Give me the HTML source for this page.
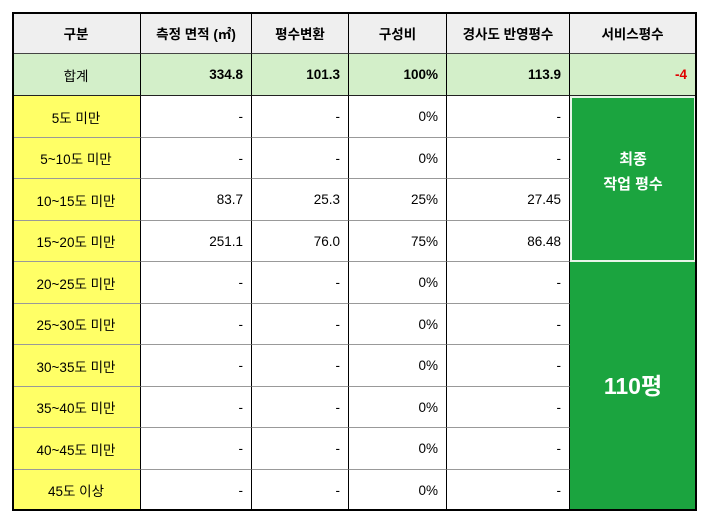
<!DOCTYPE html>
<html><head><meta charset="utf-8"><style>
html,body{margin:0;padding:0;background:#fff;width:720px;height:531px;overflow:hidden}
body{position:relative;font-family:"Liberation Sans","Noto Sans CJK KR",sans-serif;font-size:13.5px;color:#000}
.c{position:absolute;box-sizing:border-box;display:flex;align-items:center;border-right:1px solid #000;border-bottom:1px solid #999}
.ctr{justify-content:center}.r{justify-content:flex-end;padding-right:8px}
.h{background:#efefef;font-weight:bold;border-bottom:1px solid #444}
.t{background:#d3efc9;border-bottom:1px solid #222}
.t.b{font-weight:bold}
.y{background:#ffff66}
.g{position:absolute;box-sizing:border-box;background:#1ba43f;color:#fff;font-weight:bold;display:flex;align-items:center;justify-content:center;text-align:center}
</style></head><body>
<div style="position:absolute;left:12px;top:12px;width:685px;height:499px;border:2px solid #000;box-sizing:border-box;z-index:5;pointer-events:none"></div>
<div id="tbl"></div>
<div class="g" style="left:570px;top:96px;width:126px;height:166px;border:2px solid #e8f5e8;font-size:15px;line-height:25px;padding-bottom:14px">최종<br>작업 평수</div>
<div class="g" style="left:570px;top:262px;width:126px;height:249px;font-size:23px;padding-bottom:6px">110평</div>
<script>
const headers=["구분","측정 면적 (㎡)","평수변환","구성비","경사도 반영평수","서비스평수"];
const totals=["합계","334.8","101.3","100%","113.9","-4"];
const categories=["5도 미만","5~10도 미만","10~15도 미만","15~20도 미만","20~25도 미만","25~30도 미만","30~35도 미만","35~40도 미만","40~45도 미만","45도 이상"];
const areas=["-","-","83.7","251.1","-","-","-","-","-","-"];
const pyeong=["-","-","25.3","76.0","-","-","-","-","-","-"];
const ratios=["0%","0%","25%","75%","0%","0%","0%","0%","0%","0%"];
const adjusted=["-","-","27.45","86.48","-","-","-","-","-","-"];
const xs=[12,141,252,349,447,570,696];
const tbl=document.getElementById('tbl');
function cell(x0,x1,y0,y1,txt,cls,name){
 const d=document.createElement('div');
 d.className='c '+cls;
 d.style.left=x0+'px';d.style.top=y0+'px';d.style.width=(x1-x0)+'px';d.style.height=(y1-y0)+'px';
 d.textContent=txt;
 
 
 tbl.appendChild(d);return d;
}
headers.forEach((h,i)=>cell(xs[i],xs[i+1],12,54,h,'h ctr','header-'+i));
totals.forEach((t,i)=>{const d=cell(xs[i],xs[i+1],54,96,t,'t '+(i==0?'ctr':'r b'),'total-'+i);if(i==5)d.style.color='#e00000';});
categories.forEach((c,k)=>{
 const y0=Math.round(96+41.5*k),y1=Math.round(96+41.5*(k+1));
 cell(xs[0],xs[1],y0,y1,c,'y ctr','category-'+k);
 cell(xs[1],xs[2],y0,y1,areas[k],'r','area-'+k);
 cell(xs[2],xs[3],y0,y1,pyeong[k],'r','pyeong-'+k);
 cell(xs[3],xs[4],y0,y1,ratios[k],'r','ratio-'+k);
 cell(xs[4],xs[5],y0,y1,adjusted[k],'r','adjusted-'+k);
});
</script>
</body></html>
